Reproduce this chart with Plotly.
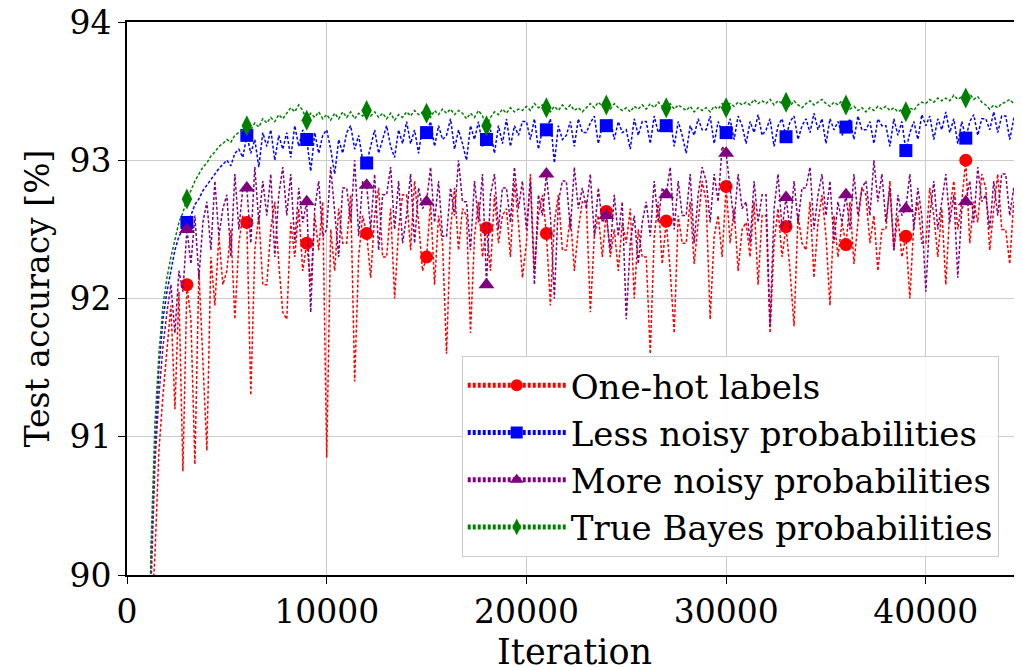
import plotly.graph_objects as go

# iterations sampled every 200 steps
iterations = list(range(1000, 45001, 200))

one_hot = [
    88.0, 89.6, 90.15, 90.9, 91.3,
    91.6, 91.95, 91.2, 92.05, 90.75,
    92.1, 91.85, 90.8, 92.2, 91.5,
    90.9, 92.3, 91.95, 92.45, 92.1,
    92.2, 92.5, 91.85, 92.4, 92.6,
    92.55, 91.3, 92.35, 92.6, 92.1,
    92.1, 92.5, 92.7, 92.25, 91.9,
    91.85, 92.55, 92.3, 92.65, 92.2,
    92.4, 92.1, 92.6, 92.35, 92.7,
    90.85, 92.5, 92.2, 92.65, 92.4,
    92.4, 92.75, 91.4, 92.3, 92.6,
    92.47, 92.15, 92.6, 92.8, 92.3,
    92.3, 92.65, 92.0, 92.5, 92.75,
    92.75, 92.35, 92.85, 92.55, 92.2,
    92.3, 92.7, 92.1, 92.6, 92.4,
    91.6, 92.5, 92.8, 92.35, 92.65,
    92.6, 91.75, 92.45, 92.7, 92.3,
    92.51, 92.2, 92.75, 92.4, 92.6,
    92.65, 92.3, 92.85, 92.55, 92.15,
    92.4, 92.9, 92.2, 92.6, 92.75,
    92.47, 91.95, 92.55, 92.75, 92.35,
    92.35, 92.6, 92.2, 92.5, 92.7,
    92.7, 91.9, 92.45, 92.6, 92.3,
    92.63, 92.3, 92.5, 92.2, 92.55,
    92.4, 92.65, 92.0, 92.5, 92.3,
    92.3, 91.6, 92.45, 92.7, 92.25,
    92.56, 92.2, 91.75, 92.6, 92.4,
    92.4, 92.7, 92.25, 92.55, 92.85,
    92.7, 91.85, 92.45, 92.6, 92.3,
    92.81, 92.4, 92.65, 92.2, 92.5,
    92.55, 92.3, 92.7, 92.1, 92.6,
    92.6, 91.75, 92.4, 92.65, 92.3,
    92.52, 92.2, 91.8, 92.6, 92.4,
    92.35, 92.7, 92.15, 92.55, 92.75,
    92.45, 91.95, 92.6, 92.3, 92.55,
    92.39, 92.7, 92.25, 92.55, 92.8,
    92.75, 92.4, 92.6, 92.2, 92.5,
    92.5, 92.85, 92.35, 92.6, 92.3,
    92.45, 92.0, 92.55, 92.7, 92.4,
    92.4, 92.8, 92.6, 92.3, 92.65,
    92.1, 92.65, 92.85, 92.5, 92.7,
    93.0, 92.4, 92.7, 92.55, 92.9,
    92.8, 92.35, 92.65, 92.9, 92.5,
    92.5, 92.25, 92.7, 92.6, 92.8,
    92.55,
]

less_noisy = [
    88.6, 90.1, 90.9, 91.5, 91.85,
    92.05, 92.2, 92.35, 92.45, 92.5,
    92.55, 92.6, 92.68, 92.72, 92.78,
    92.82, 92.86, 92.9, 92.94, 92.97,
    93.0, 92.96, 93.05, 93.08, 93.02,
    93.18, 93.05, 93.15, 92.95, 93.2,
    93.1, 93.22, 93.0, 93.18, 93.08,
    93.2, 93.02, 93.25, 93.1, 93.22,
    93.15, 92.92, 93.2, 93.05, 93.18,
    93.22, 93.08, 92.9, 93.15, 93.05,
    93.2, 93.25, 93.08, 93.18, 93.0,
    92.98, 93.1, 93.22, 93.05, 93.15,
    93.25, 93.1, 93.02, 93.22, 93.12,
    93.28, 93.12, 93.22, 93.05, 93.25,
    93.2, 93.28, 93.1, 93.25, 93.15,
    93.18, 93.3, 93.08, 93.22, 93.12,
    93.0, 93.25, 93.15, 93.28, 93.1,
    93.15, 93.22, 93.05, 93.25, 93.12,
    93.3, 93.1, 93.25, 93.18, 93.28,
    93.28, 93.15, 93.3, 93.08, 93.22,
    93.22, 93.3, 92.98, 93.25, 93.15,
    93.18, 93.28, 93.1, 93.3, 93.2,
    93.2, 93.27, 93.32, 93.12, 93.25,
    93.25, 93.3, 93.15, 93.28, 93.2,
    93.22, 93.08, 93.3, 93.18, 93.28,
    93.28, 93.12, 93.32, 93.2, 93.25,
    93.25, 93.3, 93.1, 93.28, 93.18,
    93.05, 93.25, 93.18, 93.3, 93.22,
    93.22, 93.32, 93.12, 93.28, 93.2,
    93.2, 93.3, 93.15, 93.32, 93.25,
    93.12, 93.28, 93.2, 93.33, 93.18,
    93.22, 93.3, 93.1, 93.25, 93.3,
    93.17, 93.28, 93.32, 93.15, 93.25,
    93.3, 93.2, 93.34, 93.22, 93.3,
    93.12, 93.3, 93.22, 93.28, 93.18,
    93.24, 93.3, 93.15, 93.32, 93.22,
    93.22, 93.28, 93.12, 93.3, 93.25,
    93.25, 93.1, 93.3, 93.18, 93.28,
    93.07, 93.2, 93.28, 93.15, 93.33,
    93.25, 93.32, 93.15, 93.3, 93.22,
    93.35, 93.2, 93.3, 93.12, 93.28,
    93.16, 93.28, 93.33, 93.18, 93.3,
    93.3, 93.22, 93.35, 93.2, 93.32,
    93.32, 93.15, 93.3, 93.35, 93.22,
    93.25,
]

more_noisy = [
    88.6, 89.9, 90.8, 91.3, 91.65,
    91.9, 92.1, 91.75, 92.2, 92.05,
    92.5, 92.25, 92.6, 92.15, 92.55,
    92.7, 92.35, 92.85, 92.45, 92.65,
    92.75, 92.3, 92.9, 92.5, 92.8,
    92.8, 92.4, 92.95, 92.55, 92.85,
    92.6, 92.9, 92.3, 92.75, 92.95,
    92.6, 92.9, 92.4, 92.8, 92.55,
    92.7, 91.9, 92.65, 92.85, 92.45,
    92.5, 92.95, 92.65, 92.3, 92.8,
    92.8, 92.55, 93.0, 92.45, 92.85,
    92.82, 92.5, 92.9, 92.35, 92.75,
    92.75, 92.95, 92.5, 92.85, 92.4,
    92.6, 92.9, 92.4, 92.8, 92.65,
    92.7, 92.95, 92.55, 92.85, 92.45,
    92.45, 92.8, 92.6, 93.0, 92.7,
    92.7, 92.35, 92.85, 92.55, 92.9,
    92.1, 92.75, 92.9, 92.5, 92.8,
    92.8, 92.55, 92.95, 92.65, 92.85,
    92.5, 92.85, 92.1, 92.75, 92.6,
    92.9, 92.6, 92.0, 92.7, 92.85,
    92.85, 92.5, 92.95, 92.65, 92.8,
    92.65, 92.9, 92.45, 92.8, 92.55,
    92.6, 92.35, 92.75, 92.45, 92.7,
    91.85, 92.4, 92.6, 92.25, 92.55,
    92.7, 92.45, 92.85, 92.55, 92.8,
    92.75, 92.95, 92.5, 92.85, 92.6,
    92.6, 92.9, 92.4, 92.75, 92.95,
    92.85, 92.55, 92.9, 92.7, 93.1,
    93.05, 92.8, 92.55, 92.9, 92.65,
    92.7, 92.4, 92.85, 92.55, 92.75,
    92.75, 91.8, 92.65, 92.9, 92.5,
    92.73, 92.5, 92.85, 92.55, 92.8,
    92.8, 92.95, 92.5, 92.75, 92.9,
    92.6, 92.85, 92.4, 92.7, 92.55,
    92.75, 92.5, 92.9, 92.6, 92.8,
    92.85, 92.6, 93.0, 92.7, 92.9,
    92.55, 92.8, 92.35, 92.75, 92.6,
    92.65, 92.9, 92.5, 92.8, 92.6,
    92.05, 92.6, 92.85, 92.5, 92.7,
    92.9, 92.55, 92.75, 92.15, 92.65,
    92.7, 92.85, 92.55, 92.95, 92.7,
    92.75, 92.5, 92.85, 92.6, 92.9,
    92.9, 92.6, 92.8, 92.55, 93.0,
    92.75,
]

true_bayes = [
    88.6, 90.2, 91.1, 91.6, 91.95,
    92.15, 92.3, 92.42, 92.55, 92.62,
    92.72, 92.78, 92.85, 92.9, 92.95,
    92.98, 93.03, 93.06, 93.1, 93.12,
    93.15, 93.13, 93.18, 93.2, 93.22,
    93.25, 93.22, 93.27, 93.24, 93.3,
    93.27, 93.31, 93.28, 93.33, 93.3,
    93.34, 93.38, 93.35, 93.4, 93.36,
    93.29, 93.34, 93.31, 93.35, 93.3,
    93.33, 93.29, 93.34, 93.3, 93.35,
    93.31, 93.35, 93.3, 93.34, 93.32,
    93.36, 93.32, 93.35, 93.31, 93.34,
    93.3, 93.34, 93.29, 93.33, 93.31,
    93.35, 93.32, 93.36, 93.33, 93.35,
    93.34, 93.31, 93.36, 93.33, 93.37,
    93.34, 93.37, 93.33, 93.36, 93.34,
    93.3, 93.34, 93.31, 93.36, 93.32,
    93.25, 93.31, 93.35, 93.33, 93.37,
    93.34, 93.38, 93.35, 93.37, 93.36,
    93.39, 93.36, 93.41, 93.38, 93.4,
    93.38, 93.35, 93.39, 93.36, 93.4,
    93.37, 93.4, 93.36, 93.38, 93.35,
    93.38, 93.41, 93.38, 93.42, 93.39,
    93.4, 93.37, 93.41, 93.38, 93.36,
    93.38, 93.35, 93.39, 93.37, 93.4,
    93.37, 93.41, 93.38, 93.42, 93.39,
    93.38, 93.41, 93.37, 93.4, 93.38,
    93.36, 93.39, 93.35, 93.38, 93.36,
    93.38, 93.35, 93.39, 93.37, 93.41,
    93.38, 93.41, 93.39, 93.42, 93.4,
    93.42, 93.4, 93.44, 93.41, 93.43,
    93.41, 93.44, 93.4, 93.43, 93.41,
    93.42, 93.39, 93.43, 93.4, 93.38,
    93.41, 93.43, 93.4, 93.42, 93.44,
    93.41, 93.39, 93.42, 93.4, 93.43,
    93.4, 93.37, 93.39, 93.36, 93.38,
    93.35, 93.38, 93.36, 93.39, 93.37,
    93.39, 93.36, 93.38, 93.35, 93.37,
    93.35, 93.38, 93.36, 93.4, 93.42,
    93.41, 93.44, 93.42, 93.45, 93.43,
    93.45, 93.43, 93.47, 93.44, 93.46,
    93.45, 93.48, 93.44, 93.46, 93.42,
    93.4, 93.37, 93.4, 93.38, 93.41,
    93.42, 93.44, 93.41, 93.45, 93.43,
    93.44,
]

series = [
    ("One-hot labels", one_hot, "red", "circle", 13),
    ("Less noisy probabilities", less_noisy, "blue", "square", 13),
    ("More noisy probabilities", more_noisy, "purple", "triangle-up", 14),
    ("True Bayes probabilities", true_bayes, "green", "diamond-tall", 15),
]

fig = go.Figure()
for name, vals, color, symbol, msize in series:
    # marker every 3000 iterations, like matplotlib markevery
    sizes = [msize if it % 3000 == 0 else 0 for it in iterations]
    fig.add_trace(go.Scatter(
        x=iterations, y=vals, name=name, legendgroup=name, mode="lines+markers",
        line=dict(color=color, width=1.5, dash="3px,2px"),
        marker=dict(color=color, symbol=symbol, size=sizes,
                    opacity=1, line=dict(width=0)),
    ))

# the page body adds an 8px offset, so the figure is sized 8px smaller
font = "DejaVu Serif"
fig.update_layout(
    width=1014, height=659,
    margin=dict(l=119, r=0, t=14, b=92),
    plot_bgcolor="white", paper_bgcolor="white",
    font=dict(family=font, size=33, color="black"),
    showlegend=True,
    legend=dict(
        x=0.374, y=0.033, xanchor="left", yanchor="bottom",
        bgcolor="rgba(255,255,255,0.85)", bordercolor="#cccccc", borderwidth=1,
        font=dict(family=font, size=34), itemsizing="constant",
        itemwidth=98, tracegroupgap=0,
    ),
)
# x title as an annotation so it can sit low and run off the bottom edge
fig.add_annotation(
    text="Iteration", xref="paper", yref="paper", x=0.5, y=-0.1,
    xanchor="center", yanchor="top", showarrow=False,
    font=dict(family=font, size=35),
)
xticks = [0, 10000, 20000, 30000, 40000]
fig.update_xaxes(
    range=[0, 44815], tickvals=xticks, ticktext=[str(t) for t in xticks],
    automargin=False,
    showline=True, linecolor="black", linewidth=1.6, mirror=True,
    ticks="outside", ticklen=7, tickcolor="black", tickwidth=1.4,
    showgrid=True, gridcolor="#cccccc", gridwidth=1, zeroline=False,
)
fig.update_yaxes(
    range=[90, 94], tickvals=[90, 91, 92, 93, 94],
    title=dict(text="Test accuracy [%]", font=dict(size=33), standoff=10),
    automargin=False, ticklabeloverflow="allow",
    showline=True, linecolor="black", linewidth=1.6,
    ticks="outside", ticklen=7, tickcolor="black", tickwidth=1.4,
    showgrid=True, gridcolor="#cccccc", gridwidth=1, zeroline=False,
)

fig.write_html("out.html")
